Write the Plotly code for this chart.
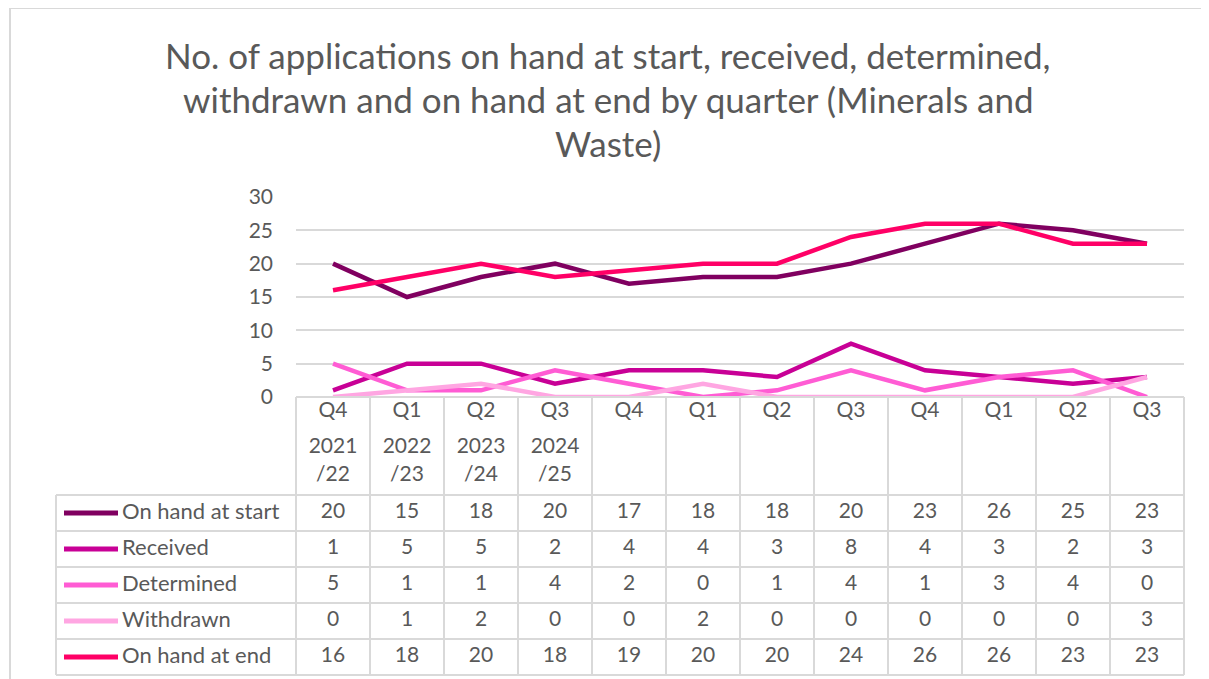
import plotly.graph_objects as go

# data
quarters = ["Q4", "Q1", "Q2", "Q3", "Q4", "Q1", "Q2", "Q3", "Q4", "Q1", "Q2", "Q3"]
years = ["2021", "2022", "2023", "2024"]
year_suffix = ["/22", "/23", "/24", "/25"]

series_names = ["On hand at start", "Received", "Determined", "Withdrawn", "On hand at end"]
on_hand_start = [20, 15, 18, 20, 17, 18, 18, 20, 23, 26, 25, 23]
received = [1, 5, 5, 2, 4, 4, 3, 8, 4, 3, 2, 3]
determined = [5, 1, 1, 4, 2, 0, 1, 4, 1, 3, 4, 0]
withdrawn = [0, 1, 2, 0, 0, 2, 0, 0, 0, 0, 0, 3]
on_hand_end = [16, 18, 20, 18, 19, 20, 20, 24, 26, 26, 23, 23]

title_lines = [
    "No. of applications on hand at start, received, determined,",
    "withdrawn and on hand at end by quarter (Minerals and",
    "Waste)",
]

colors = ["#800060", "#C80096", "#FF5CD4", "#FFA6E2", "#FF0066"]
all_series = [on_hand_start, received, determined, withdrawn, on_hand_end]

# the page body has an 8px margin, so the figure is drawn 8px in from the corner
OFF = 8
W, H = 1209 - OFF, 679 - OFF
FONT = "Lato"
TXT = "#595959"
GRID = "#d9d9d9"

# pixel layout (window coordinates, from reference)
plot_l, plot_r = 296, 1184
plot_t, plot_b = 197, 397
cell_w = (plot_r - plot_l) / len(quarters)
tab_l = 56
row_h = 36
head_b = 495
tab_b = head_b + row_h * len(series_names)
pad = 3


def px(x):
    return (x - OFF) / W


def py(y):
    return 1 - (y - OFF) / H


# table coordinate helpers: columns are category index, rows are series index
def tx(p):
    return -0.5 + (p - plot_l) / cell_w


def ty(p):
    return -0.5 + (p - head_b) / row_h


fig = go.Figure()

xs = list(range(len(quarters)))
for name, vals, c in zip(series_names, all_series, colors):
    fig.add_trace(go.Scatter(
        x=xs, y=vals, mode="lines", name=name,
        line=dict(color=c, width=4.5),
        showlegend=False, hoverinfo="skip",
    ))

# table grid
x_left, x_right = tx(tab_l), tx(plot_r)
y_top, y_bot = ty(plot_b), ty(tab_b)
shapes = []
for k in range(len(quarters) + 1):
    shapes.append(dict(type="line", xref="x2", yref="y2", x0=k - 0.5, x1=k - 0.5,
                       y0=y_top, y1=y_bot, line=dict(color=GRID, width=2)))
shapes.append(dict(type="line", xref="x2", yref="y2", x0=x_left, x1=x_left,
                   y0=-0.5, y1=y_bot, line=dict(color=GRID, width=2)))
for r in range(len(series_names) + 1):
    shapes.append(dict(type="line", xref="x2", yref="y2", x0=x_left, x1=x_right,
                       y0=r - 0.5, y1=r - 0.5, line=dict(color=GRID, width=2)))
shapes.append(dict(type="line", xref="x2", yref="y2", x0=-0.5, x1=x_right,
                   y0=y_top, y1=y_top, line=dict(color=GRID, width=2)))

# outer chart border
shapes.append(dict(type="line", xref="paper", yref="paper", x0=px(10), x1=px(10),
                   y0=0, y1=py(8), line=dict(color=GRID, width=2)))
shapes.append(dict(type="line", xref="paper", yref="paper", x0=px(10), x1=1,
                   y0=py(8), y1=py(8), line=dict(color=GRID, width=2)))

NUM_SIZE = 21
# header labels
fig.add_trace(go.Scatter(
    x=xs, y=[ty(412)] * len(quarters), text=quarters, mode="text",
    textfont=dict(family=FONT, size=NUM_SIZE, color=TXT),
    xaxis="x2", yaxis="y2", showlegend=False, hoverinfo="skip",
))
fig.add_trace(go.Scatter(
    x=xs[:len(years)], y=[ty(448)] * len(years), text=years, mode="text",
    textfont=dict(family=FONT, size=NUM_SIZE, color=TXT),
    xaxis="x2", yaxis="y2", showlegend=False, hoverinfo="skip",
))
fig.add_trace(go.Scatter(
    x=xs[:len(year_suffix)], y=[ty(476)] * len(year_suffix), text=year_suffix, mode="text",
    textfont=dict(family=FONT, size=NUM_SIZE, color=TXT),
    xaxis="x2", yaxis="y2", showlegend=False, hoverinfo="skip",
))

# table rows: legend key, label, values
for r, (name, vals, c) in enumerate(zip(series_names, all_series, colors)):
    fig.add_trace(go.Scatter(
        x=[tx(64), tx(118)], y=[r, r], mode="lines",
        line=dict(color=c, width=5),
        xaxis="x2", yaxis="y2", showlegend=False, hoverinfo="skip",
    ))
    fig.add_trace(go.Scatter(
        x=[tx(122)], y=[r], text=[name], mode="text", textposition="middle right",
        textfont=dict(family=FONT, size=22, color=TXT),
        xaxis="x2", yaxis="y2", showlegend=False, hoverinfo="skip",
    ))
    fig.add_trace(go.Scatter(
        x=xs, y=[r] * len(vals), text=[str(v) for v in vals], mode="text",
        textfont=dict(family=FONT, size=NUM_SIZE, color=TXT),
        xaxis="x2", yaxis="y2", showlegend=False, hoverinfo="skip",
    ))

annotations = []
for i, line in enumerate(title_lines):
    annotations.append(dict(
        text=line, x=px(608), y=py(55 + 44 * i), xref="paper", yref="paper",
        xanchor="center", yanchor="middle", showarrow=False,
        font=dict(family=FONT, size=35, color=TXT),
    ))

fig.update_layout(
    width=W, height=H,
    margin=dict(l=0, r=0, t=0, b=0, autoexpand=False),
    paper_bgcolor="white", plot_bgcolor="rgba(0,0,0,0)",
    font=dict(family=FONT, color=TXT),
    showlegend=False,
    xaxis=dict(domain=[px(plot_l), px(plot_r)], range=[-0.5, len(quarters) - 0.5],
               showticklabels=False, showgrid=False, zeroline=False, ticks="",
               automargin=False),
    yaxis=dict(domain=[py(plot_b), py(plot_t)], range=[0, 30], dtick=5,
               showgrid=True, gridcolor=GRID, gridwidth=2, zeroline=False,
               ticks="", ticklabelstandoff=22, automargin=False,
               tickfont=dict(family=FONT, size=NUM_SIZE, color=TXT)),
    xaxis2=dict(domain=[px(tab_l - pad), px(plot_r + pad)],
                range=[tx(tab_l - pad), tx(plot_r + pad)],
                visible=False, anchor="y2", automargin=False),
    yaxis2=dict(domain=[py(tab_b + pad), py(plot_b - pad)],
                range=[ty(tab_b + pad), ty(plot_b - pad)],
                visible=False, anchor="x2", automargin=False),
    shapes=shapes,
    annotations=annotations,
)

fig.write_html("out.html")
